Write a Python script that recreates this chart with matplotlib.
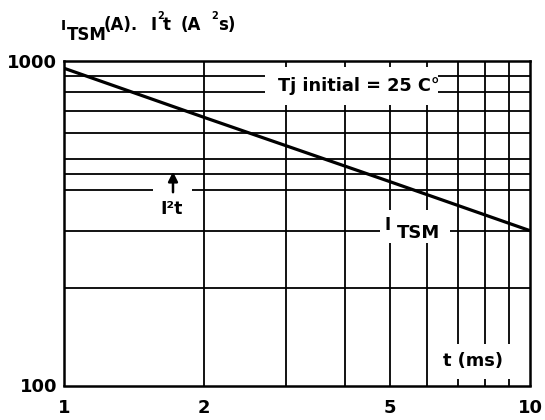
import matplotlib
matplotlib.use("Agg")
import matplotlib.pyplot as plt
from matplotlib.patches import Rectangle
from matplotlib.ticker import NullLocator

# ---- data ----
t_ms = [1, 2, 5, 10]
itsm = [950, 670, 425, 300]
x_grid = [2, 3, 4, 5, 6, 7, 8, 9]
y_grid = [200, 300, 400, 450, 500, 600, 700, 800, 900]
x_ticks = [1, 2, 5, 10]
x_ticklabels = ["1", "2", "5", "10"]
y_ticks = [100, 1000]
y_ticklabels = ["100", "1000"]

W, H = 545, 420
fig = plt.figure(figsize=(W / 100, H / 100), dpi=100)
fig.patch.set_facecolor("white")

L, R, T, B = 64, 530, 61, 385.5
ax = fig.add_axes([L / W, 1 - B / H, (R - L) / W, (B - T) / H])
ax.set_xscale("log")
ax.set_yscale("log")
ax.set_xlim(1, 10)
ax.set_ylim(100, 1000)


def fx(x):
    return x / W


def fy(y):
    return 1 - y / H


# grid
for v in x_grid:
    ax.axvline(v, color="black", lw=1.3, zorder=1)
for v in y_grid:
    ax.axhline(v, color="black", lw=1.3, zorder=1)

# white label boxes (break the grid)
boxes = [(265, 67, 438, 105), (153, 180, 192, 226), (380, 210, 450, 243), (434, 344, 515, 379)]
for x0, y0, x1, y1 in boxes:
    ax.add_patch(Rectangle((fx(x0), fy(y1)), (x1 - x0) / W, (y1 - y0) / H,
                           transform=fig.transFigure, fc="white", ec="none", zorder=2))

# curve
ax.plot(t_ms, itsm, color="black", lw=2.3, zorder=3, solid_capstyle="butt")

# axes styling
for s in ax.spines.values():
    s.set_linewidth(1.8)
ax.set_xticks(x_ticks)
ax.set_xticklabels(x_ticklabels)
ax.set_yticks(y_ticks)
ax.set_yticklabels(y_ticklabels)
ax.xaxis.set_minor_locator(NullLocator())
ax.yaxis.set_minor_locator(NullLocator())
ax.tick_params(axis="both", length=0, labelsize=13)
ax.tick_params(axis="x", pad=10)
ax.tick_params(axis="y", pad=5)
for lbl in ax.get_xticklabels() + ax.get_yticklabels():
    lbl.set_fontweight("bold")

# in-plot labels
fig.text(fx(278), fy(86), "Tj initial = 25 C°", fontsize=12.8, fontweight="bold",
         ha="left", va="center", zorder=5)
fig.text(fx(172), fy(209), "I²t", fontsize=12.5, fontweight="bold",
         ha="center", va="center", zorder=5)
ax.annotate("", xy=(fx(173), fy(169)), xytext=(fx(173), fy(195)),
            xycoords="figure fraction", textcoords="figure fraction",
            arrowprops=dict(arrowstyle="-|>", color="black", lw=1.8, mutation_scale=14),
            zorder=5)
fig.text(fx(385), fy(230), "I", fontsize=12, fontweight="bold",
         ha="left", va="baseline", zorder=5)
fig.text(fx(397), fy(238), "TSM", fontsize=13, fontweight="bold",
         ha="left", va="baseline", zorder=5)
fig.text(fx(443), fy(361), "t (ms)", fontsize=12.8, fontweight="bold",
         ha="left", va="center", zorder=5)

# y-axis title
fig.text(fx(61), fy(30), "I", fontsize=10, fontweight="bold", ha="left", va="baseline")
fig.text(fx(67), fy(40), "TSM", fontsize=12, fontweight="bold", ha="left", va="baseline")
fig.text(fx(104), fy(30), "(A).", fontsize=12, fontweight="bold", ha="left", va="baseline")
fig.text(fx(150), fy(30), "I", fontsize=12, fontweight="bold", ha="left", va="baseline")
fig.text(fx(157), fy(19), "2", fontsize=7, fontweight="bold", ha="left", va="baseline")
fig.text(fx(163), fy(30), "t", fontsize=12, fontweight="bold", ha="left", va="baseline")
fig.text(fx(181), fy(30), "(A", fontsize=12, fontweight="bold", ha="left", va="baseline")
fig.text(fx(211), fy(19), "2", fontsize=7, fontweight="bold", ha="left", va="baseline")
fig.text(fx(218), fy(30), "s)", fontsize=12, fontweight="bold", ha="left", va="baseline")

fig.savefig("out.png", dpi=100, facecolor="white")
